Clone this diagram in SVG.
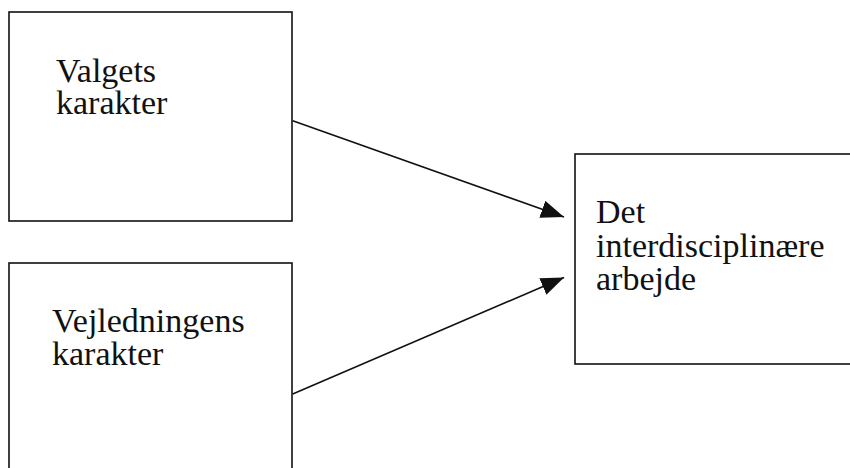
<svg xmlns="http://www.w3.org/2000/svg" width="850" height="468" viewBox="0 0 850 468">
  <style>
    .box { fill: #fff; stroke: #111; stroke-width: 1.6; }
    .lbl { font-family: "Liberation Serif", "Times New Roman", serif; font-size: 34px; fill: #111; }
    .edge { stroke: #111; stroke-width: 1.6; fill: none; marker-end: url(#head); }
  </style>
  <defs>
    <marker id="head" markerUnits="userSpaceOnUse" markerWidth="26" markerHeight="20" refX="23" refY="9" orient="auto">
      <path d="M0,0 L23,9 L0,18 Z" fill="#111"/>
    </marker>
  </defs>
  <rect width="850" height="468" fill="#fff"/>

  <g id="valgets">
    <rect class="box" x="9" y="12" width="283" height="209"/>
    <text class="lbl" x="56" y="82">Valgets</text>
    <text class="lbl" x="56" y="114">karakter</text>
  </g>

  <g id="vejledningens">
    <rect class="box" x="9" y="263" width="283" height="220"/>
    <text class="lbl" x="52" y="332">Vejledningens</text>
    <text class="lbl" x="52" y="365">karakter</text>
  </g>

  <g id="arbejde">
    <rect class="box" x="575" y="154" width="290" height="210"/>
    <text class="lbl" x="596" y="223">Det</text>
    <text class="lbl" x="596" y="257">interdisciplinære</text>
    <text class="lbl" x="596" y="290">arbejde</text>
  </g>

  <g id="connectors">
    <line class="edge" x1="292.7" y1="120.7" x2="564" y2="217"/>
    <line class="edge" x1="292.7" y1="394" x2="564" y2="277.5"/>
  </g>
</svg>
